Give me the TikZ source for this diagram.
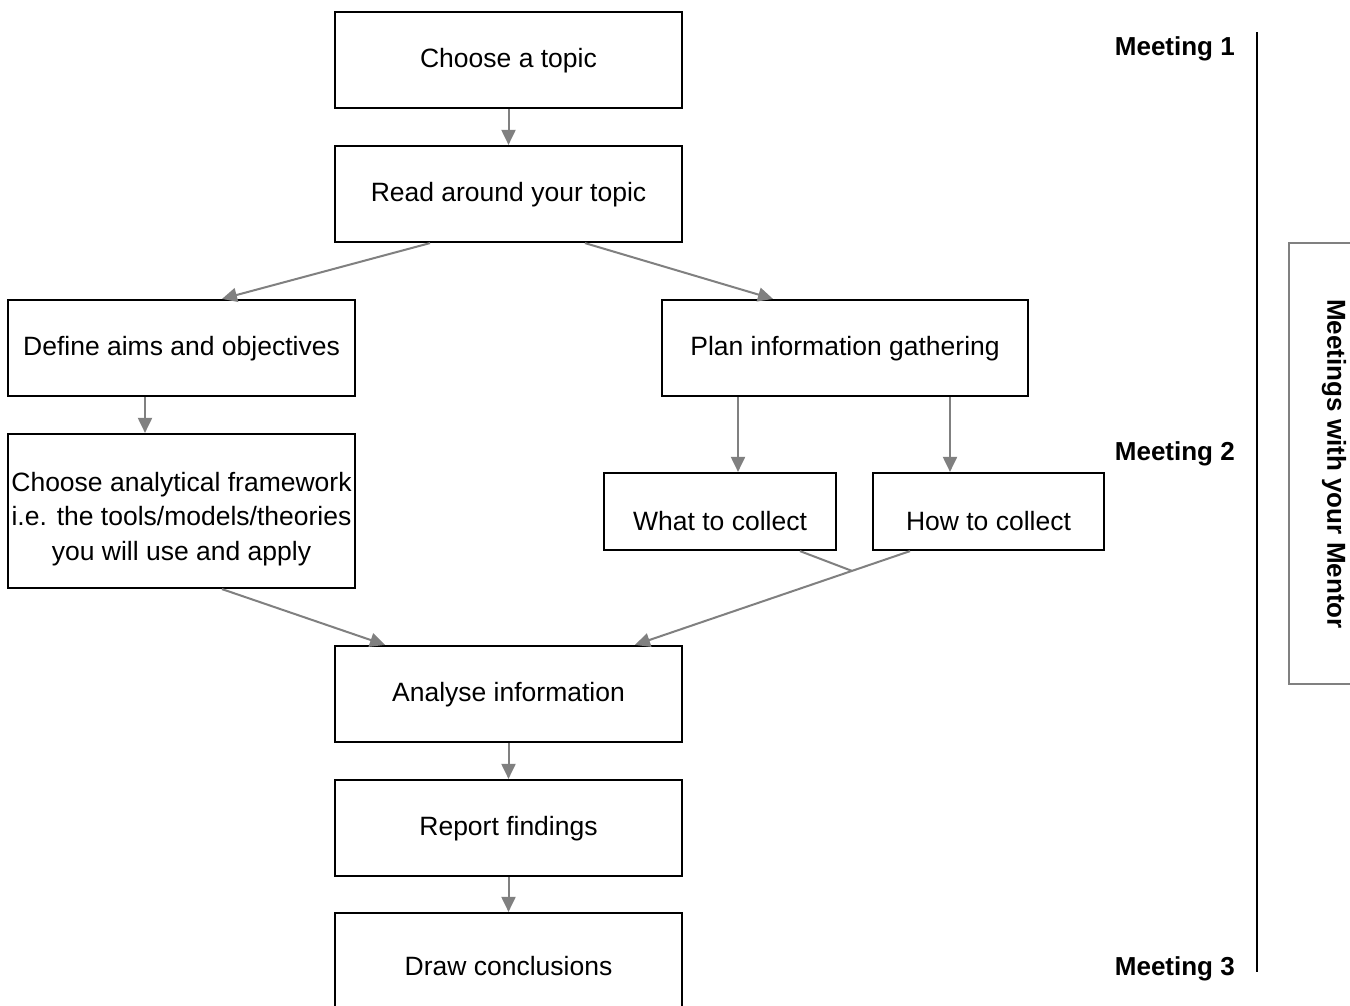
\documentclass[tikz,border=0pt]{standalone}
\usepackage{fontspec}
\setmainfont{Liberation Sans}
\usetikzlibrary{arrows.meta,calc}
\definecolor{arrgray}{HTML}{808080}
\begin{document}
\begin{tikzpicture}[x=1pt,y=-1pt,
  box/.style={draw=black,line width=2.2pt,rectangle,align=center,inner sep=0pt,
    font=\fontsize{26.5}{34.5}\selectfont,text height=19pt,text depth=5pt},
  arr/.style={draw=arrgray,line width=2pt,-{Triangle[length=15pt,width=14pt]}},
  plainline/.style={draw=arrgray,line width=2pt},
  meet/.style={font=\bfseries\fontsize{26}{30}\selectfont,anchor=east,inner sep=0pt,text height=19pt,text depth=5pt}]
\useasboundingbox (0,0) rectangle (1350,1005);
\clip (0,0) rectangle (1350,1005);
\fill[white] (0,0) rectangle (1350,1005);
% nodes
\node[box,minimum width=347pt,minimum height=96pt] (topic) at (508.5,60) {Choose a topic};
\node[box,minimum width=347pt,minimum height=96pt] (read) at (508.5,194) {Read around your topic};
\node[box,minimum width=347pt,minimum height=96pt] (define) at (181.5,348) {Define aims and objectives};
\node[box,minimum width=366pt,minimum height=96pt] (plan) at (845,348) {Plan information gathering};
\node[draw=black,line width=2.2pt,rectangle,align=center,inner sep=0pt,
    font=\fontsize{26.5}{34.5}\selectfont,minimum width=347pt,minimum height=154pt] (frame) at (181.5,511) {\rule{0pt}{35pt}Choose analytical framework\\i.e. the tools/models/theories\\you will use and apply};
\node[box,minimum width=232pt,minimum height=77pt,text height=43pt] (what) at (720,511.5) {What to collect};
\node[box,minimum width=231pt,minimum height=77pt,text height=43pt] (how) at (988.5,511.5) {How to collect};
\node[box,minimum width=347pt,minimum height=96pt] (analyse) at (508.5,694) {Analyse information};
\node[box,minimum width=347pt,minimum height=96pt] (report) at (508.5,828) {Report findings};
\node[box,minimum width=347pt,minimum height=110pt] (concl) at (508.5,968) {Draw conclusions};
% connectors
\draw[arr] (topic.south) -- (read.north);
\draw[arr] ([xshift=-78.5pt]read.south) -- ([xshift=40.5pt]define.north);
\draw[arr] ([xshift=76.5pt]read.south) -- ([xshift=-72pt]plan.north);
\draw[arr] ([xshift=-36.5pt]define.south) -- ([xshift=-36.5pt]frame.north);
\draw[arr] ([xshift=-107pt]plan.south) -- ([xshift=18pt]what.north);
\draw[arr] ([xshift=105pt]plan.south) -- ([xshift=-38.5pt]how.north);
\draw[arr] ([xshift=40.5pt]frame.south) -- ([xshift=-123.5pt]analyse.north);
\coordinate (hs) at ([xshift=-78.5pt]how.south);
\coordinate (at) at ([xshift=126.5pt]analyse.north);
\coordinate (junc) at ($(hs)!0.211!(at)$);
\draw[arr] (hs) -- (at);
\draw[plainline] ([xshift=80pt]what.south) -- (junc);
\draw[arr] (analyse.south) -- (report.north);
\draw[arr] (report.south) -- (concl.north);
% meetings
\node[meet] (m1) at (1235,48) {Meeting 1};
\node[meet] (m2) at (1235,453) {Meeting 2};
\node[meet] (m3) at (1235,968) {Meeting 3};
\coordinate (vtop) at (1257,32);
\coordinate (vbot) at (1257,972);
\draw[black,line width=2.2pt] (vtop) -- (vbot);
% bracket
\coordinate (bt) at (1352,243);
\coordinate (bb) at (1352,684);
\draw[arrgray,line width=2.5pt] (bt) -- (1289,243) -- (1289,684) -- (bb);
\node[font=\bfseries\fontsize{26}{30}\selectfont,rotate=-90,inner sep=0pt] (mentor) at (1334,464) {Meetings with your Mentor};
\end{tikzpicture}
\end{document}
